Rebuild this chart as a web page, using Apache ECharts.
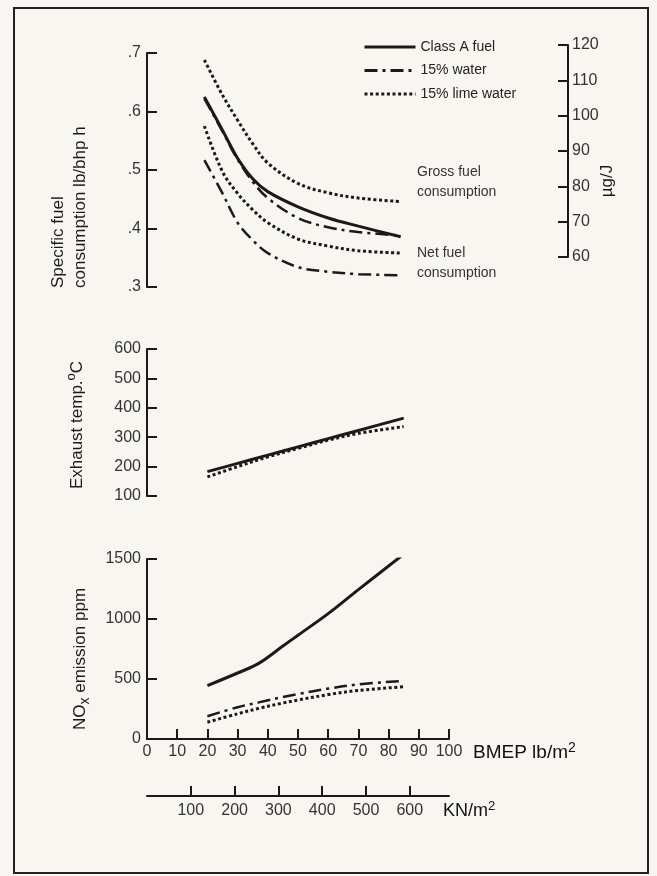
<!DOCTYPE html>
<html>
<head>
<meta charset="utf-8">
<script src="https://cdn.jsdelivr.net/npm/echarts@6/dist/echarts.min.js"></script>
<style>
  html, body { margin: 0; padding: 0; background: #f7f6f1; }
  #chart { width: 657px; height: 876px; }
</style>
</head>
<body>
<div id="chart"></div>
<script>
// BMEP lb/in2 sample points, specific fuel consumption (lb/bhp h)
const sfcBmep = [19, 25, 30, 35, 40, 50, 60, 70, 84];
const grossClassA = [0.625, 0.568, 0.52, 0.485, 0.463, 0.437, 0.418, 0.404, 0.386];
const grossWater = [0.622, 0.566, 0.518, 0.48, 0.452, 0.418, 0.402, 0.394, 0.388];
const grossLime = [0.688, 0.628, 0.585, 0.545, 0.512, 0.477, 0.461, 0.452, 0.446];
const netWater = [0.517, 0.46, 0.41, 0.38, 0.358, 0.334, 0.326, 0.322, 0.32];
const netLime = [0.575, 0.497, 0.46, 0.432, 0.41, 0.382, 0.37, 0.362, 0.358];

// exhaust temperature (C)
const tempBmep = [20, 30, 40, 50, 60, 70, 85];
const tempClassA = [183, 211, 239, 267, 295, 323, 365];
const tempLime = [165, 200, 233, 262, 290, 313, 336];

// NOx emission (ppm)
const noxBmep = [20, 30, 37, 45, 50, 60, 70, 85];
const noxClassA = [445, 550, 630, 775, 865, 1045, 1245, 1540];
const noxWater = [190, 265, 305, 350, 375, 420, 455, 485];
const noxLime = [140, 210, 255, 300, 325, 370, 405, 435];

const kNTicks = [100, 200, 300, 400, 500, 600];
const fuelNames = ['Class A fuel', '15% water', '15% lime water'];

const FONT = 'Liberation Sans, Arial, sans-serif';
const INK = '#1a1a1a';

function pairs(xs, ys) {
    return xs.map(function (x, i) { return [x, ys[i]]; });
}

const styles = {
    'Class A fuel': { color: INK, width: 3, type: 'solid' },
    '15% water': { color: INK, width: 2.5, type: [13, 5, 3, 5] },
    '15% lime water': { color: INK, width: 3, type: [3, 2.6] }
};

function line(name, xi, xs, ys) {
    return {
        name: name,
        type: 'line',
        xAxisIndex: xi,
        yAxisIndex: xi,
        data: pairs(xs, ys),
        smooth: 0.35,
        symbol: 'none',
        itemStyle: { color: INK },
        lineStyle: Object.assign({ cap: 'butt' }, styles[name])
    };
}

function yAxisBase(gridIndex, min, max, interval) {
    return {
        type: 'value',
        gridIndex: gridIndex,
        min: min,
        max: max,
        interval: interval,
        axisLine: { show: true, onZero: false, lineStyle: { color: INK, width: 2 } },
        axisTick: { show: true, inside: true, length: 10, lineStyle: { color: INK, width: 2 } },
        axisLabel: {
            color: '#333', fontSize: 16, fontFamily: FONT, margin: 6,
            formatter: function (v) { return String(v); }
        },
        splitLine: { show: false }
    };
}

function hiddenX(gridIndex) {
    return { type: 'value', gridIndex: gridIndex, min: 0, max: 100, show: false };
}

const chart = echarts.init(document.getElementById('chart'));

const option = {
    animation: false,
    backgroundColor: '#f7f6f1',
    textStyle: { fontFamily: FONT },
    legend: {
        data: fuelNames,
        orient: 'vertical',
        left: 358,
        top: 35,
        itemWidth: 51,
        itemHeight: 14,
        itemGap: 9.5,
        itemStyle: { opacity: 0 },
        lineStyle: { width: 3 },
        textStyle: { fontSize: 14, color: '#222', fontFamily: FONT }
    },
    grid: [
        { left: 147, right: 208, top: 53, height: 234 },
        { left: 147, right: 208, top: 349, height: 147 },
        { left: 147, right: 208, top: 559, height: 180 },
        { left: 147, right: 89, top: 45, height: 212 }
    ],
    xAxis: [
        hiddenX(0),
        hiddenX(1),
        {
            type: 'value',
            gridIndex: 2,
            min: 0,
            max: 100,
            interval: 10,
            axisLine: { onZero: false, lineStyle: { color: INK, width: 2 } },
            axisTick: { inside: true, length: 10, lineStyle: { color: INK, width: 2 } },
            axisLabel: { color: '#333', fontSize: 16, fontFamily: FONT, margin: 5 },
            splitLine: { show: false },
            name: '{a|BMEP lb/m}{s|2}',
            nameLocation: 'end',
            nameGap: 24,
            nameTextStyle: {
                verticalAlign: 'top',
                padding: [2, 0, 0, 0],
                rich: {
                    a: { fontSize: 19, color: '#111', fontFamily: FONT, lineHeight: 24 },
                    s: { fontSize: 14, color: '#111', fontFamily: FONT, lineHeight: 14, verticalAlign: 'top' }
                }
            }
        },
        {
            type: 'value',
            gridIndex: 2,
            position: 'bottom',
            offset: 57,
            min: 0,
            max: 689.48,
            interval: 100,
            axisLine: { onZero: false, lineStyle: { color: INK, width: 2 } },
            axisTick: { inside: true, length: 10, customValues: kNTicks, lineStyle: { color: INK, width: 2 } },
            axisLabel: { color: '#333', fontSize: 16, fontFamily: FONT, margin: 7, customValues: kNTicks },
            splitLine: { show: false },
            name: '{a|KN/m}{s|2}',
            nameLocation: 'end',
            nameGap: -6,
            nameTextStyle: {
                verticalAlign: 'top',
                padding: [4, 0, 0, 0],
                rich: {
                    a: { fontSize: 18, color: '#111', fontFamily: FONT, lineHeight: 22 },
                    s: { fontSize: 13, color: '#111', fontFamily: FONT, lineHeight: 13, verticalAlign: 'top' }
                }
            }
        },
        hiddenX(3)
    ],
    yAxis: [
        Object.assign(yAxisBase(0, 0.3, 0.7, 0.1), {
            axisLabel: {
                color: '#333', fontSize: 16, fontFamily: FONT, margin: 6,
                formatter: function (v) { return v.toFixed(1).replace(/^0/, ''); }
            }
        }),
        yAxisBase(1, 100, 600, 100),
        yAxisBase(2, 0, 1500, 500),
        Object.assign(yAxisBase(3, 60, 120, 10), { position: 'right',
            axisLabel: { color: '#333', fontSize: 16, fontFamily: FONT, margin: 4 } })
    ],
    graphic: [
        {
            type: 'rect',
            shape: { x: 14, y: 8, width: 634, height: 865 },
            style: { fill: 'none', stroke: '#222', lineWidth: 2 },
            silent: true
        },
        {
            type: 'text', x: 69, y: 288, rotation: Math.PI / 2,
            style: {
                text: 'Specific fuel\nconsumption lb/bhp h',
                font: '17px ' + FONT, fill: '#1a1a1a',
                align: 'left', verticalAlign: 'middle', lineHeight: 22
            }
        },
        {
            type: 'text', x: 77, y: 425, rotation: Math.PI / 2,
            style: {
                text: '{a|Exhaust temp.}{s|o}{a|C}',
                align: 'center', verticalAlign: 'middle',
                rich: {
                    a: { font: '17px ' + FONT, fill: '#1a1a1a', lineHeight: 24 },
                    s: { font: '13px ' + FONT, fill: '#1a1a1a', lineHeight: 14, verticalAlign: 'top' }
                }
            }
        },
        {
            type: 'text', x: 80, y: 659, rotation: Math.PI / 2,
            style: {
                text: '{a|NO}{s|x}{a| emission ppm}',
                align: 'center', verticalAlign: 'middle',
                rich: {
                    a: { font: '17px ' + FONT, fill: '#1a1a1a', lineHeight: 24 },
                    s: { font: '14px ' + FONT, fill: '#1a1a1a', lineHeight: 14, verticalAlign: 'bottom' }
                }
            }
        },
        {
            type: 'text', x: 607, y: 181, rotation: Math.PI / 2,
            style: {
                text: '\u00b5g/J',
                font: '17px ' + FONT, fill: '#1a1a1a',
                align: 'center', verticalAlign: 'middle'
            }
        },
        {
            type: 'text', x: 417, y: 182,
            style: {
                text: 'Gross fuel\nconsumption',
                font: '14px ' + FONT, fill: '#333',
                align: 'left', verticalAlign: 'middle', lineHeight: 20
            }
        },
        {
            type: 'text', x: 417, y: 263,
            style: {
                text: 'Net fuel\nconsumption',
                font: '14px ' + FONT, fill: '#333',
                align: 'left', verticalAlign: 'middle', lineHeight: 20
            }
        }
    ],
    series: [
        line('15% lime water', 0, sfcBmep, grossLime),
        line('15% lime water', 0, sfcBmep, netLime),
        line('15% water', 0, sfcBmep, grossWater),
        line('15% water', 0, sfcBmep, netWater),
        line('Class A fuel', 0, sfcBmep, grossClassA),
        line('15% lime water', 1, tempBmep, tempLime),
        line('Class A fuel', 1, tempBmep, tempClassA),
        line('15% lime water', 2, noxBmep, noxLime),
        line('15% water', 2, noxBmep, noxWater),
        line('Class A fuel', 2, noxBmep, noxClassA)
    ]
};

chart.setOption(option);
</script>
</body>
</html>
